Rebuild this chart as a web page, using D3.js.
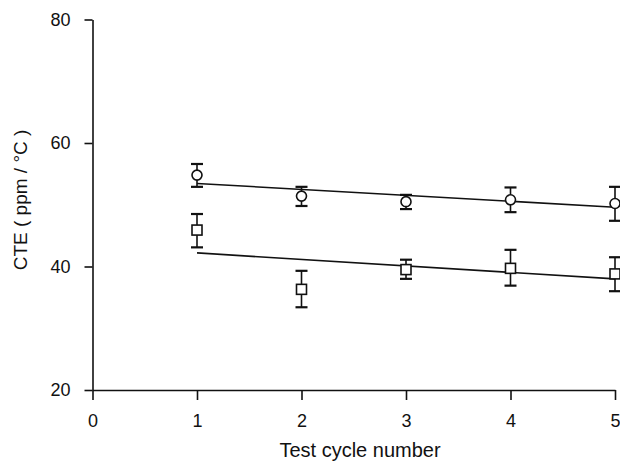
<!DOCTYPE html>
<html>
<head>
<meta charset="utf-8">
<script src="https://cdn.jsdelivr.net/npm/d3@7"></script>
<style>
    body { margin: 0; background: #fff; }
    text { font-family: "Liberation Sans", Arial, sans-serif; fill: #111; }
</style>
</head>
<body>
<svg id="viz" width="620" height="464"></svg>
<script>
// values
var cycles = [1, 2, 3, 4, 5];
var circleMean = [54.8, 51.4, 50.5, 50.8, 50.2];
var circleLow = [52.9, 49.8, 49.3, 48.8, 47.4];
var circleHigh = [56.6, 52.9, 51.6, 52.8, 52.9];
var squareMean = [45.9, 36.3, 39.5, 39.7, 38.8];
var squareLow = [43.1, 33.4, 38.0, 36.9, 36.0];
var squareHigh = [48.5, 39.3, 41.1, 42.7, 41.5];
// fitted lines, ends at cycle 1 and 5
var fitCycles = [1, 5];
var circleFit = [53.45, 49.6];
var squareFit = [42.2, 38.0];
var xTicks = [0, 1, 2, 3, 4, 5];
var yTicks = [20, 40, 60, 80];

var svg = d3.select("#viz");

var x = d3.scaleLinear().domain([0, 5]).range([92.5, 615]);
var y = d3.scaleLinear().domain([20, 80]).range([390, 19.5]);

// axes
var xAxis = svg.append("g")
    .attr("transform", "translate(0," + y(20) + ")")
    .call(d3.axisBottom(x).tickValues(xTicks).tickFormat(d3.format("d"))
        .tickSize(10).tickSizeOuter(0).tickPadding(14));
var yAxis = svg.append("g")
    .attr("transform", "translate(" + x(0) + ",0)")
    .call(d3.axisLeft(y).tickValues(yTicks).tickSize(8).tickSizeOuter(0).tickPadding(14));

[xAxis, yAxis].forEach(function (g) {
    g.selectAll("path, line").attr("stroke", "#111").attr("stroke-width", 1.6);
    g.selectAll("text").style("font-size", "18px").attr("fill", "#111");
});

svg.append("text")
    .attr("x", 360)
    .attr("y", 457)
    .attr("text-anchor", "middle")
    .style("font-size", "20px")
    .text("Test cycle number");

svg.append("text")
    .attr("transform", "translate(27,200) rotate(-90)")
    .attr("text-anchor", "middle")
    .style("font-size", "19px")
    .text("CTE ( ppm / °C )");

// fit lines
var line = d3.line()
    .x(function (d) { return x(d[0]); })
    .y(function (d) { return y(d[1]); });

[circleFit, squareFit].forEach(function (fit) {
    svg.append("path")
        .attr("d", line(fitCycles.map(function (c, i) { return [c, fit[i]]; })))
        .attr("fill", "none")
        .attr("stroke", "#111")
        .attr("stroke-width", 1.6);
});

// error bars
var capW = 6;
function errorBars(low, high) {
    cycles.forEach(function (c, i) {
        var g = svg.append("g").attr("stroke", "#111");
        g.append("line")
            .attr("x1", x(c)).attr("x2", x(c))
            .attr("y1", y(low[i])).attr("y2", y(high[i]))
            .attr("stroke-width", 1.6);
        [low[i], high[i]].forEach(function (v) {
            g.append("line")
                .attr("x1", x(c) - capW).attr("x2", x(c) + capW)
                .attr("y1", y(v)).attr("y2", y(v))
                .attr("stroke-width", 2.2);
        });
    });
}
errorBars(circleLow, circleHigh);
errorBars(squareLow, squareHigh);

// markers
svg.selectAll("circle.pt").data(cycles).enter()
    .append("circle")
    .attr("class", "pt")
    .attr("cx", function (c) { return x(c); })
    .attr("cy", function (c, i) { return y(circleMean[i]); })
    .attr("r", 5)
    .attr("fill", "#fff")
    .attr("stroke", "#111")
    .attr("stroke-width", 1.6);

var sq = 10;
svg.selectAll("rect.pt").data(cycles).enter()
    .append("rect")
    .attr("class", "pt")
    .attr("x", function (c) { return x(c) - sq / 2; })
    .attr("y", function (c, i) { return y(squareMean[i]) - sq / 2; })
    .attr("width", sq)
    .attr("height", sq)
    .attr("fill", "#fff")
    .attr("stroke", "#111")
    .attr("stroke-width", 1.6);
</script>
</body>
</html>
